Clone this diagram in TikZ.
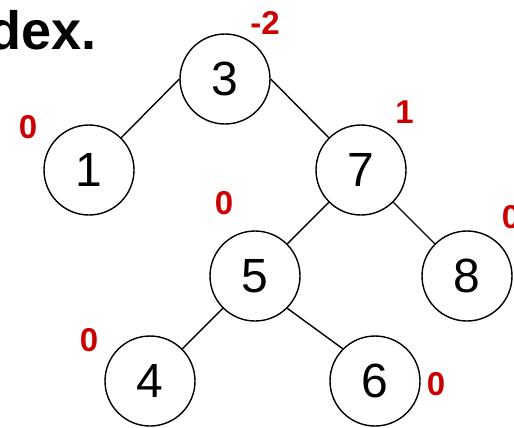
\documentclass[tikz,border=0pt]{standalone}
\usepackage{fontspec}
\setmainfont{Liberation Sans}
\definecolor{balred}{HTML}{CC0000}
\begin{document}
\begin{tikzpicture}[x=1bp,y=-1bp,
  treenode/.style={circle,draw=black,line width=1.4bp,minimum size=90bp,inner sep=0pt,
    font=\fontsize{48bp}{50bp}\selectfont},
  balance/.style={text=balred,inner sep=0pt,font=\fontsize{33bp}{35bp}\selectfont\bfseries},
  edge/.style={line width=1.4bp,draw=black}]
\useasboundingbox (0,0) rectangle (514,427);
\node[anchor=base east,inner sep=0pt,font=\fontsize{54bp}{56bp}\selectfont\bfseries] (title) at (96.5,49.3) {dex.};
\node[treenode] (n3) at (225,79) {3};
\node[treenode] (n1) at (89,170) {1};
\node[treenode] (n7) at (361,170) {7};
\node[treenode] (n5) at (255,276) {5};
\node[treenode] (n8) at (467,276) {8};
\node[treenode] (n4) at (150,381) {4};
\node[treenode] (n6) at (375,381) {6};
\draw[edge] (n3.west) -- (n1.north east);
\draw[edge] (n3.east) -- (n7.north west);
\draw[edge] (n7.south west) -- (n5.north east);
\draw[edge] (n7.south east) -- (n8.north west);
\draw[edge] (n5.south west) -- (n4.north east);
\draw[edge] (n5.south east) -- (n6.north west);
\node[balance] (b3) at (265,22.5) {-2};
\node[balance] (b1) at (28,127.5) {0};
\node[balance] (b7) at (404.5,112.5) {1};
\node[balance] (b5) at (224,203) {0};
\node[balance] (b8) at (511,217) {0};
\node[balance] (b4) at (89,340) {0};
\node[balance] (b6) at (436,384) {0};
\end{tikzpicture}
\end{document}
